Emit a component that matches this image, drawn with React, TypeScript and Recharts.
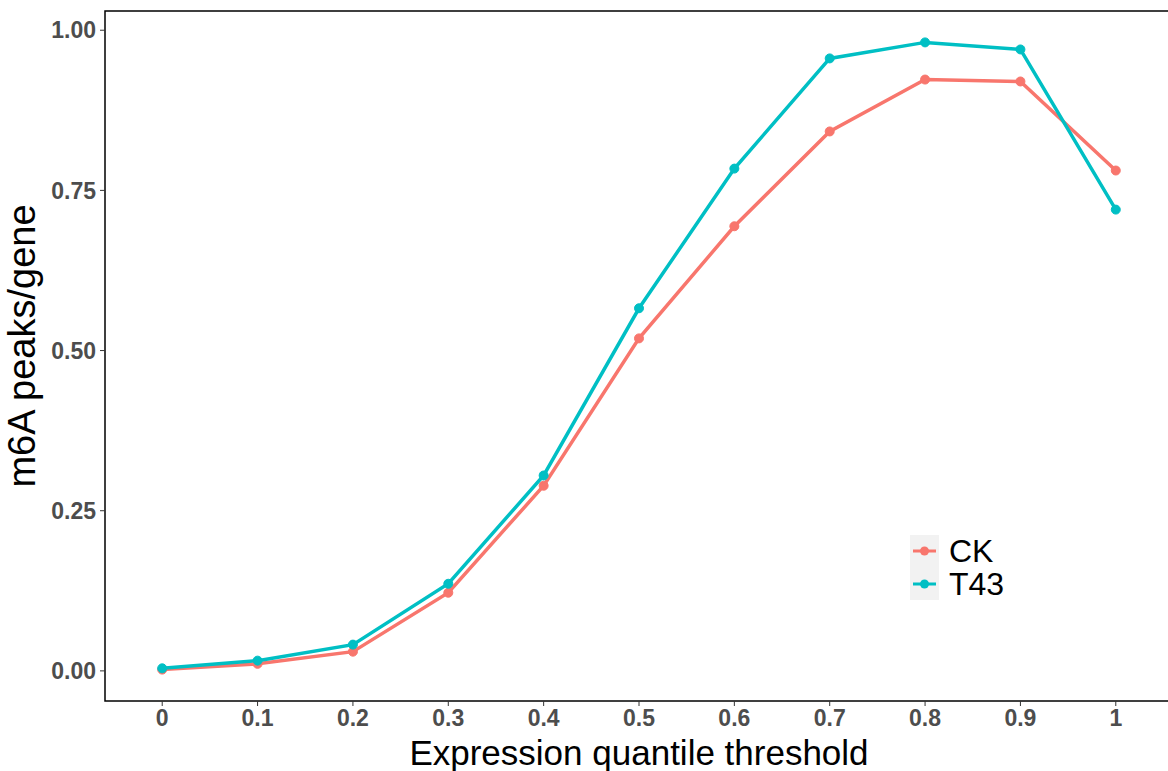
import {
  LineChart,
  Line,
  XAxis,
  YAxis,
} from "recharts";

// expression quantile thresholds
const thresholds = [0, 0.1, 0.2, 0.3, 0.4, 0.5, 0.6, 0.7, 0.8, 0.9, 1];
// m6A peaks per gene
const ckValues = [0.002, 0.011, 0.03, 0.122, 0.289, 0.519, 0.694, 0.842, 0.923, 0.92, 0.781];
const t43Values = [0.004, 0.016, 0.041, 0.136, 0.305, 0.566, 0.784, 0.956, 0.981, 0.97, 0.72];
const yTicks = [0, 0.25, 0.5, 0.75, 1];

const data = thresholds.map((t, i) => ({
  threshold: t,
  CK: ckValues[i],
  T43: t43Values[i],
}));

const CK_COLOR = "#F8766D";
const T43_COLOR = "#00BFC4";
const FONT = "Liberation Sans, Arial, sans-serif";

const tickStyle = {
  fill: "#4d4d4d",
  fontSize: 23,
  fontWeight: 700,
  fontFamily: FONT,
};

function LegendBox() {
  const rows = [
    { name: "CK", color: CK_COLOR },
    { name: "T43", color: T43_COLOR },
  ];
  return (
    <div style={{ position: "absolute", left: 910, top: 535, fontFamily: FONT }}>
      {rows.map((r) => (
        <div
          key={r.name}
          style={{ display: "flex", alignItems: "center", height: 32.5 }}
        >
          <svg width={29} height={32.5} style={{ background: "#f2f2f2", display: "block" }}>
            <line x1={3} x2={26} y1={16} y2={16} stroke={r.color} strokeWidth={3} />
            <circle cx={14.5} cy={16} r={4.5} fill={r.color} />
          </svg>
          <span style={{ fontSize: 32, color: "#000", marginLeft: 10, lineHeight: "30px" }}>
            {r.name}
          </span>
        </div>
      ))}
    </div>
  );
}

export default function App() {
  return (
    <div
      style={{
        position: "absolute",
        left: 0,
        top: 0,
        width: 1168,
        height: 771,
        overflow: "hidden",
        background: "#fff",
      }}
    >
      <LineChart
        width={1190}
        height={771}
        data={data}
        margin={{ top: 11, right: 17, bottom: 0, left: 0 }}
      >
        {/* panel border */}
        <rect x={105} y={11} width={1068} height={690} fill="none" stroke="#000" strokeWidth={1.5} />

        {/* y title */}
        <text
          transform="translate(35, 346) rotate(-90)"
          textAnchor="middle"
          fontSize={38}
          fontFamily={FONT}
          fill="#000"
        >
          m6A peaks/gene
        </text>

        <XAxis
          dataKey="threshold"
          type="number"
          domain={[-0.06, 1.06]}
          ticks={thresholds}
          tickFormatter={(v: number) => String(v)}
          tick={tickStyle}
          tickLine={{ stroke: "#333" }}
          tickSize={5}
          tickMargin={4}
          axisLine={false}
          height={70}
          interval={0}
          allowDataOverflow
          label={{
            value: "Expression quantile threshold",
            position: "insideBottom",
            offset: 6,
            style: { fontSize: 35, fill: "#000", fontFamily: FONT },
          }}
        />
        <YAxis
          type="number"
          domain={[-0.047, 1.03]}
          ticks={yTicks}
          tickFormatter={(v: number) => v.toFixed(2)}
          tick={tickStyle}
          tickLine={{ stroke: "#333" }}
          tickSize={5}
          tickMargin={4}
          axisLine={false}
          width={105}
          allowDataOverflow
        />

        <Line
          dataKey="CK"
          stroke={CK_COLOR}
          strokeWidth={3.5}
          dot={{ r: 4.5, fill: CK_COLOR, stroke: CK_COLOR, strokeWidth: 1 }}
          isAnimationActive={false}
        />
        <Line
          dataKey="T43"
          stroke={T43_COLOR}
          strokeWidth={3.5}
          dot={{ r: 4.5, fill: T43_COLOR, stroke: T43_COLOR, strokeWidth: 1 }}
          isAnimationActive={false}
        />
      </LineChart>
      <LegendBox />
    </div>
  );
}
